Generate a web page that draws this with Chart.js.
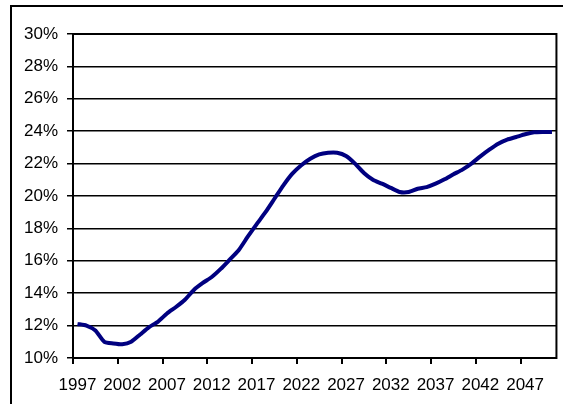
<!DOCTYPE html>
<html>
<head>
<meta charset="utf-8">
<script src="https://cdn.jsdelivr.net/npm/chart.js@4.4.0/dist/chart.umd.min.js"></script>
<style>
  html, body { margin: 0; padding: 0; background: #fff; overflow: hidden; }
  #frame { position: absolute; left: 10px; top: 5px; width: 600px; height: 450px; border: 2px solid #000; }
  #wrap { position: absolute; left: 0; top: 0; width: 563px; height: 404px; }
</style>
</head>
<body>
<div id="frame"></div>
<div id="wrap"><canvas id="chart" width="563" height="404"></canvas></div>
<script>
// Years on the category axis
const years = [];
for (let y = 1997; y <= 2050; y++) years.push(String(y));

// Series values (%)
const values = [
  12.1, 12.0, 11.7, 11.0, 10.9, 10.85, 11.0, 11.45, 11.9, 12.25,
  12.75, 13.15, 13.6, 14.2, 14.63, 15.0, 15.5, 16.07, 16.65, 17.47,
  18.25, 19.0, 19.83, 20.66, 21.38, 21.9, 22.3, 22.57, 22.67, 22.67,
  22.47, 22.0, 21.42, 21.0, 20.76, 20.5, 20.25, 20.25, 20.45, 20.55,
  20.76, 21.03, 21.34, 21.63, 22.0, 22.45, 22.86, 23.23, 23.48, 23.64,
  23.81, 23.93, 23.95, 23.95
];

// Y tick range
const yMin = 10, yMax = 30, yStep = 2;

const fontFamily = '"Liberation Sans", Arial, sans-serif';

// plot area outline (top / right edges)
const plotBorder = {
  id: 'plotBorder',
  afterDatasetsDraw(chart) {
    const a = chart.chartArea, c = chart.ctx;
    c.save();
    c.strokeStyle = '#000';
    c.lineWidth = 2;
    c.strokeRect(a.left, a.top, a.right - a.left, a.bottom - a.top);
    c.restore();
  }
};

new Chart(document.getElementById('chart'), {
  type: 'line',
  data: {
    labels: years,
    datasets: [{
      data: values,
      borderColor: '#000080',
      borderWidth: 4,
      pointRadius: 0,
      tension: 0.2,
      fill: false
    }]
  },
  options: {
    responsive: false,
    animation: false,
    layout: { padding: { left: 0, top: 34, right: 4, bottom: 0 } },
    plugins: { legend: { display: false }, tooltip: { enabled: false } },
    scales: {
      x: {
        offset: true,
        grid: {
          offset: true,
          drawOnChartArea: false,
          drawTicks: true,
          tickLength: 6,
          lineWidth: 2,
          color: (ctx) => (ctx.index % 5 === 0 ? '#000' : 'rgba(0,0,0,0)')
        },
        border: { color: '#000', width: 2 },
        ticks: {
          autoSkip: false,
          maxRotation: 0,
          padding: 11,
          color: '#000',
          font: { family: fontFamily, size: 17 },
          callback: (v, i) => (i % 5 === 0 ? years[i] : '')
        },
        afterFit: (s) => { s.height = 46; }
      },
      y: {
        min: yMin,
        max: yMax,
        grid: { color: '#000', lineWidth: 1.5, tickLength: 6 },
        border: { color: '#000', width: 2 },
        ticks: {
          stepSize: yStep,
          padding: 9,
          color: '#000',
          font: { family: fontFamily, size: 17 },
          callback: (v) => v + '%'
        },
        afterFit: (s) => { s.width = 73; }
      }
    }
  },
  plugins: [plotBorder]
});
</script>
</body>
</html>
